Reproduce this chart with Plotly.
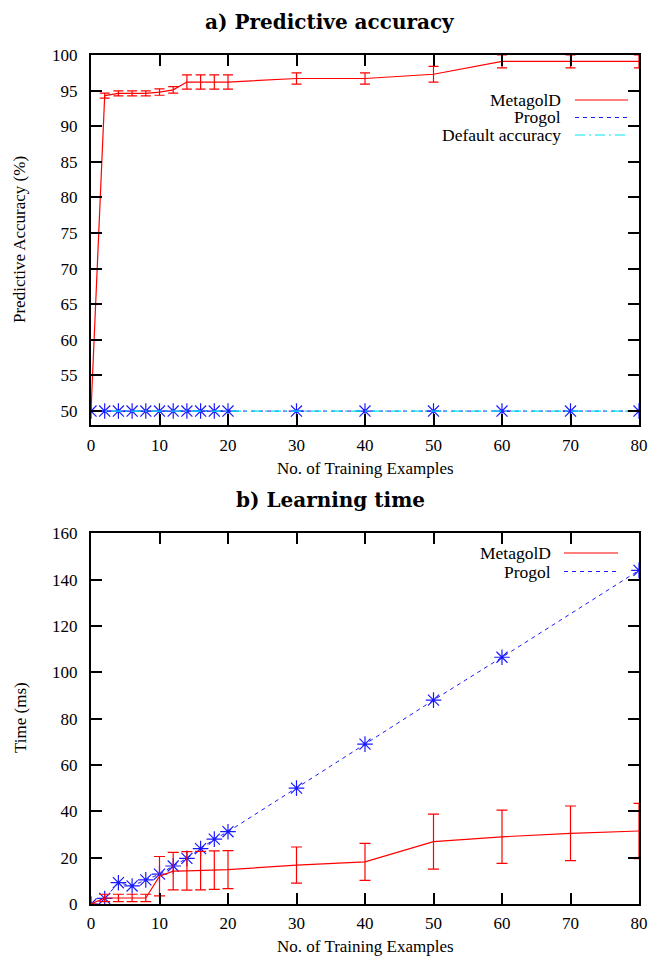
import plotly.graph_objects as go

# ---------------- data ----------------
x_examples = [0, 2, 4, 6, 8, 10, 12, 14, 16, 18, 20, 30, 40, 50, 60, 70, 80]
x_ticks = [0, 10, 20, 30, 40, 50, 60, 70, 80]

# a) Predictive accuracy
metagol_acc = [50, 94.3, 94.6, 94.6, 94.6, 94.8, 95.1, 96.2, 96.2, 96.2, 96.2, 96.7, 96.7, 97.3, 99.1, 99.1, 99.1]
metagol_acc_err = [0, 0.35, 0.35, 0.35, 0.35, 0.45, 0.45, 1.0, 1.0, 1.0, 1.0, 0.8, 0.8, 1.1, 0.9, 0.9, 0.9]
progol_acc = [50, 50, 50, 50, 50, 50, 50, 50, 50, 50, 50, 50, 50, 50, 50, 50, 50]
default_acc = [50, 50, 50, 50, 50, 50, 50, 50, 50, 50, 50, 50, 50, 50, 50, 50, 50]
acc_ticks = [50, 55, 60, 65, 70, 75, 80, 85, 90, 95, 100]

# b) Learning time
metagol_time = [0, 2.6, 2.6, 2.6, 2.6, 12, 14.2, 14.3, 14.4, 14.6, 14.8, 16.8, 18.2, 26.9, 29.0, 30.5, 31.5]
metagol_time_err = [0, 1.6, 1.6, 1.6, 1.6, 8.5, 8.1, 8.3, 8.3, 8.3, 8.2, 7.8, 8.0, 11.85, 11.5, 11.8, 11.9]
x_progol_time = [0, 2, 4, 6, 8, 10, 12, 14, 16, 18, 20, 30, 40, 50, 60, 80]
progol_time = [0, 2.4, 9.2, 7.8, 10.4, 12.9, 16.4, 19.7, 23.9, 28.0, 31.2, 50, 69, 88, 106.5, 144]
time_ticks = [0, 20, 40, 60, 80, 100, 120, 140, 160]

# ---------------- styling ----------------
W, H = 652, 961
RED = "#ff0000"
BLUE = "#1a1aff"
CYAN = "#00e5ee"
SERIF = "Liberation Serif, Times New Roman, serif"
TITLE_FONT = "DejaVu Serif, serif"
PROGOL_DASH = "4px,4px"
DEFAULT_DASH = "10px,4px,2px,4px"


def py(p):
    return 1 - p / H


def px(p):
    return p / W


fig = go.Figure()

# top plot
fig.add_trace(go.Scatter(
    x=x_examples, y=progol_acc, mode="lines+markers", xaxis="x", yaxis="y",
    line=dict(color=BLUE, width=1, dash=PROGOL_DASH),
    marker=dict(symbol="asterisk-open", size=13, color=BLUE, line=dict(color=BLUE, width=1.2)),
    showlegend=False))
fig.add_trace(go.Scatter(
    x=x_examples, y=default_acc, mode="lines", xaxis="x", yaxis="y",
    line=dict(color=CYAN, width=1.2, dash=DEFAULT_DASH), showlegend=False))
fig.add_trace(go.Scatter(
    x=x_examples, y=metagol_acc, mode="lines", xaxis="x", yaxis="y",
    line=dict(color=RED, width=1.2),
    error_y=dict(type="data", array=metagol_acc_err, color=RED, thickness=1.2, width=5),
    showlegend=False))

# bottom plot
fig.add_trace(go.Scatter(
    x=x_progol_time, y=progol_time, mode="lines+markers", xaxis="x2", yaxis="y2",
    line=dict(color=BLUE, width=1, dash=PROGOL_DASH),
    marker=dict(symbol="asterisk-open", size=13, color=BLUE, line=dict(color=BLUE, width=1.2)),
    showlegend=False))
fig.add_trace(go.Scatter(
    x=x_examples, y=metagol_time, mode="lines", xaxis="x2", yaxis="y2",
    line=dict(color=RED, width=1.2),
    error_y=dict(type="data", array=metagol_time_err, color=RED, thickness=1.2, width=5.5),
    showlegend=False))

axis_common = dict(
    showline=True, linecolor="black", linewidth=2, mirror="ticks",
    ticks="inside", ticklen=11, tickwidth=1.5, tickcolor="black",
    showgrid=False, zeroline=False, automargin=False,
    tickfont=dict(family=SERIF, size=17, color="black"),
)

x_dom = [px(91), px(639)]
fig.update_layout(
    width=W, height=H,
    margin=dict(l=0, r=0, t=0, b=0),
    paper_bgcolor="white", plot_bgcolor="white",
    showlegend=False,
    xaxis=dict(domain=x_dom, range=[0, 80], tickvals=x_ticks, anchor="y",
               ticklabelstandoff=3, **axis_common),
    yaxis=dict(domain=[py(425.3), py(55)], range=[48, 100], tickvals=acc_ticks, anchor="x",
               ticklabelstandoff=8, **axis_common),
    xaxis2=dict(domain=x_dom, range=[0, 80], tickvals=x_ticks, anchor="y2",
                ticklabelstandoff=3, **axis_common),
    yaxis2=dict(domain=[py(904), py(533.3)], range=[0, 160], tickvals=time_ticks, anchor="x2",
                ticklabelstandoff=8, **axis_common),
)

txt = dict(family=SERIF, size=17, color="black")
leg_txt = dict(family=SERIF, size=17.5, color="black")
C = dict(xref="paper", yref="paper", showarrow=False, xanchor="center", yanchor="middle")
ann = []
# titles
ann.append(dict(text="<b>a) Predictive accuracy</b>", x=px(330), y=py(22),
                font=dict(family=TITLE_FONT, size=20, color="black"), **C))
ann.append(dict(text="<b>b) Learning time</b>", x=px(330), y=py(500),
                font=dict(family=TITLE_FONT, size=20, color="black"), **C))
# axis titles
ann.append(dict(text="No. of Training Examples", x=px(365), y=py(468), font=txt, **C))
ann.append(dict(text="No. of Training Examples", x=px(365), y=py(946), font=txt, **C))
ann.append(dict(text="Predictive Accuracy (%)", x=px(20), y=py(240), textangle=-90, font=txt, **C))
ann.append(dict(text="Time (ms)", x=px(20), y=py(718), textangle=-90, font=txt, **C))

# manual legends (gnuplot style: label left of sample)
R = dict(xref="paper", yref="paper", showarrow=False, xanchor="right", yanchor="middle")
shapes = []
legend_top = [("MetagolD", RED, "solid"), ("Progol", BLUE, PROGOL_DASH), ("Default accuracy", CYAN, DEFAULT_DASH)]
for i, (name, col, dash) in enumerate(legend_top):
    yy = 100 + i * 17.5
    ann.append(dict(text=name, x=px(563), y=py(yy), font=leg_txt, **R))
    shapes.append(dict(type="line", xref="paper", yref="paper", x0=px(575), x1=px(628),
                       y0=py(yy), y1=py(yy), line=dict(color=col, width=1.2, dash=dash)))
legend_bot = [("MetagolD", RED, "solid"), ("Progol", BLUE, PROGOL_DASH)]
for i, (name, col, dash) in enumerate(legend_bot):
    yy = 553 + i * 18.5
    ann.append(dict(text=name, x=px(553), y=py(yy), font=leg_txt, **R))
    shapes.append(dict(type="line", xref="paper", yref="paper", x0=px(564), x1=px(618),
                       y0=py(yy), y1=py(yy), line=dict(color=col, width=1.2, dash=dash)))

fig.update_layout(annotations=ann, shapes=shapes)
fig.write_html(
    "out.html",
    config={"displayModeBar": False},
    post_script="document.body.style.margin='0px';document.body.style.padding='0px';"
                "document.documentElement.style.overflow='hidden';",
)
